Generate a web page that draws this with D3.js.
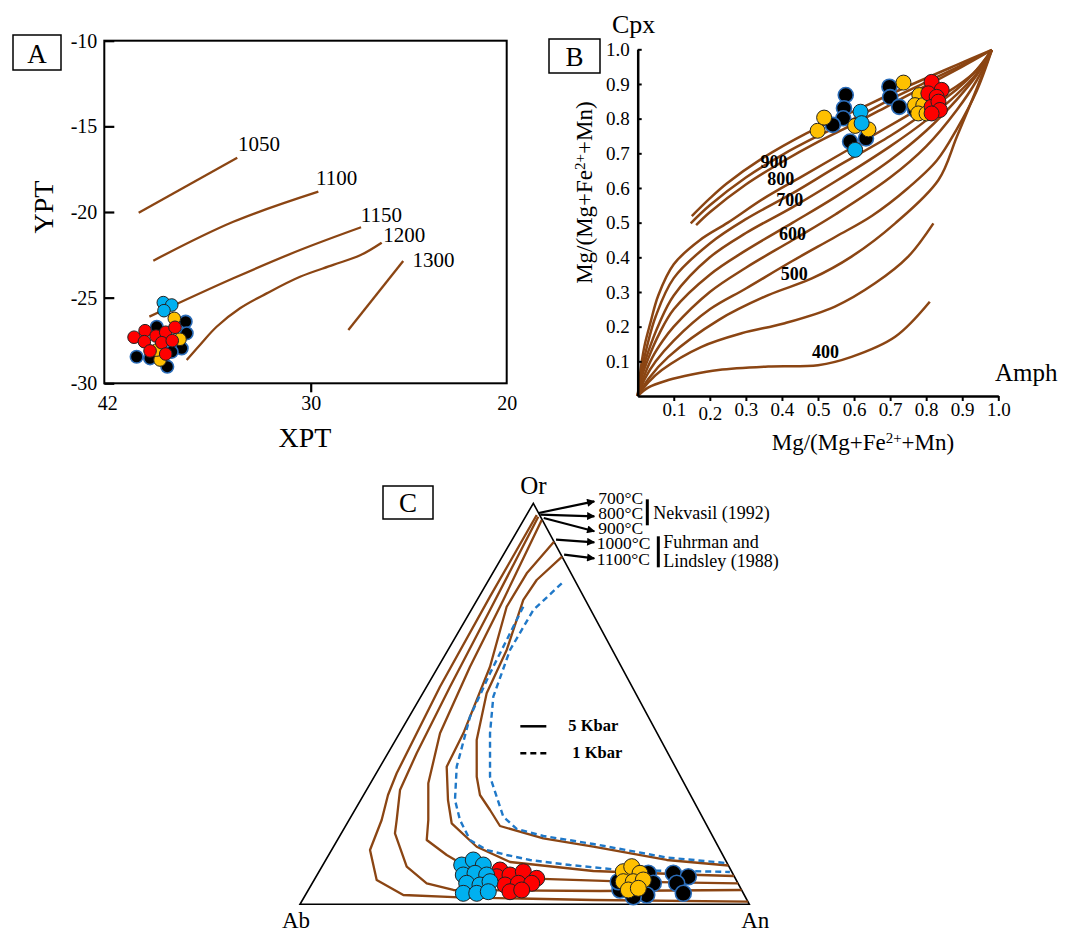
<!DOCTYPE html>
<html><head><meta charset="utf-8">
<script src="https://cdn.jsdelivr.net/npm/d3@7"></script>
<style>body{margin:0;background:#fff}</style>
</head><body>
<script>
// ---------------- DATA ----------------
// Panel A (XPT vs YPT)
const aTicksX = [42, 30, 20];
const aTicksY = [-10, -15, -20, -25, -30];
const a1050 = [[40.0,-20.04],[34.27,-16.83]];
const a1100 = [[39.15,-22.84],[34.5,-20.57],[29.61,-18.81]];
const a1150 = [[39.38,-26.11],[34.5,-23.87],[30.62,-22.22],[27.43,-20.89]];
const a1200 = [[37.21,-28.64],[36.44,-27.76],[35.47,-26.70],[34.11,-25.62],[32.56,-24.75],[30.62,-23.78],[28.85,-23.09],[27.45,-22.51],[26.38,-21.79]];
const a1300 = [[28.08,-26.89],[25.28,-22.86]];
const aLineLabels = ["1050","1100","1150","1200","1300"];
const aLabelPos = [[34.23,-16.42],[29.73,-18.42],[27.45,-20.6],[26.3,-21.73],[24.8,-23.19]];
const aBlack = [[40.12,-28.45],[38.95,-26.70],[37.27,-26.40],[37.21,-27.08],[37.5,-27.96],[38.34,-29.03],[39.34,-28.54],[38.08,-28.16]];
const aYellow = [[37.93,-26.21],[37.6,-27.43],[38.76,-28.64],[38.95,-28.06]];
const aBlue = [[38.57,-25.29],[38.08,-25.43],[38.53,-25.76]];
const aRed = [[40.27,-27.31],[39.63,-26.93],[38.99,-27.24],[38.43,-27.02],[37.89,-26.73],[39.67,-27.57],[38.66,-27.63],[38.05,-27.51],[39.34,-28.11],[38.43,-28.29]];

// Panel B (Mg# Amph vs Mg# Cpx)
const bTicks = [0.1,0.2,0.3,0.4,0.5,0.6,0.7,0.8,0.9,1.0];
const bT1 = [[0.150,0.519],[0.2,0.57],[0.247,0.613],[0.339,0.681],[0.469,0.758],[0.607,0.825],[0.746,0.892],[0.885,0.955],[0.982,0.998]];
const bT2 = [[0.147,0.498],[0.2,0.55],[0.3,0.63],[0.4,0.695],[0.5,0.75],[0.6,0.80],[0.7,0.855],[0.8,0.905],[0.9,0.955],[0.982,0.998]];
const bT3 = [[0.162,0.493],[0.2,0.53],[0.3,0.61],[0.4,0.675],[0.5,0.733],[0.6,0.785],[0.7,0.84],[0.8,0.895],[0.9,0.95],[0.982,0.998]];
const bF1 = [[0,0],[0.01,0.09],[0.02,0.15],[0.035,0.21],[0.057,0.29],[0.1,0.38],[0.173,0.45],[0.25,0.5],[0.35,0.57],[0.45,0.63],[0.55,0.69],[0.65,0.75],[0.75,0.81],[0.85,0.87],[0.93,0.93],[0.982,0.998]];
const bF2 = [[0,0],[0.01,0.07],[0.025,0.14],[0.05,0.23],[0.1,0.34],[0.2,0.44],[0.3,0.51],[0.43,0.585],[0.55,0.66],[0.7,0.75],[0.8,0.82],[0.885,0.885],[0.94,0.94],[0.982,0.998]];
const bF3 = [[0,0],[0.01,0.06],[0.03,0.13],[0.06,0.21],[0.1,0.29],[0.2,0.4],[0.3,0.47],[0.43,0.545],[0.55,0.62],[0.7,0.72],[0.8,0.795],[0.885,0.87],[0.94,0.93],[0.982,0.998]];
const bF4 = [[0,0],[0.01,0.05],[0.03,0.11],[0.06,0.18],[0.1,0.25],[0.2,0.35],[0.3,0.42],[0.43,0.5],[0.55,0.575],[0.7,0.68],[0.8,0.765],[0.885,0.855],[0.94,0.925],[0.982,0.998]];
const bF5 = [[0,0],[0.015,0.05],[0.04,0.11],[0.07,0.16],[0.1,0.2],[0.2,0.3],[0.3,0.37],[0.43,0.45],[0.55,0.525],[0.7,0.63],[0.8,0.72],[0.885,0.825],[0.94,0.91],[0.982,0.998]];
const bF6 = [[0,0],[0.02,0.05],[0.05,0.1],[0.1,0.16],[0.2,0.25],[0.3,0.31],[0.43,0.39],[0.55,0.46],[0.65,0.52],[0.75,0.6],[0.83,0.68],[0.885,0.77],[0.94,0.88],[0.982,0.998]];
const bF7 = [[0,0],[0.03,0.05],[0.085,0.113],[0.224,0.219],[0.362,0.291],[0.483,0.339],[0.593,0.402],[0.714,0.498],[0.834,0.623],[0.885,0.748],[0.931,0.863],[0.982,0.998]];
const bF8 = [[0,0],[0.03,0.04],[0.067,0.075],[0.177,0.142],[0.288,0.181],[0.408,0.21],[0.547,0.258],[0.658,0.325],[0.75,0.402],[0.82,0.498]];
const bF9 = [[0,0],[0.03,0.025],[0.085,0.046],[0.15,0.062],[0.224,0.075],[0.362,0.085],[0.5,0.089],[0.593,0.113],[0.714,0.171],[0.81,0.272]];
const bCurveLabels = ["900","800","700","600","500","400"];
const bLabelPos = [[0.378,0.676],[0.397,0.625],[0.422,0.565],[0.429,0.467],[0.434,0.351],[0.521,0.128]];
const bBlack = [[0.577,0.868],[0.572,0.83],[0.570,0.801],[0.541,0.782],[0.589,0.734],[0.633,0.743],[0.698,0.892],[0.70,0.862],[0.725,0.834],[0.769,0.825]];
const bYellow = [[0.499,0.765],[0.517,0.803],[0.603,0.779],[0.640,0.769],[0.737,0.904],[0.781,0.868],[0.769,0.839],[0.792,0.839],[0.778,0.815],[0.801,0.815]];
const bBlue = [[0.618,0.82],[0.621,0.787],[0.603,0.71]];
const bRed = [[0.815,0.906],[0.843,0.883],[0.806,0.873],[0.829,0.863],[0.815,0.834],[0.834,0.849],[0.838,0.825],[0.815,0.815]];

// Panel C (ternary Ab-An-Or), points as [An, Or] fractions
const c700 = [[0.0227,0.9708],[0.0245,0.7671],[0.0298,0.5426],[0.0455,0.3267],[0.0543,0.2726],[0.0726,0.2102],[0.0855,0.1354],[0.1392,0.0606],[0.2179,0.0232],[0.347,0.0175],[0.6472,0.0107],[0.9935,0.0065]];
const c800 = [[0.0284,0.9666],[0.0418,0.7339],[0.0521,0.5426],[0.0641,0.3766],[0.0746,0.285],[0.106,0.2102],[0.1194,0.1771],[0.1888,0.0938],[0.2548,0.0524],[0.3227,0.0357],[0.6505,0.0332],[0.9643,0.0357]];
const c900 = [[0.0403,0.9584],[0.0584,0.7589],[0.0707,0.5925],[0.0902,0.4264],[0.1289,0.3017],[0.1764,0.2102],[0.1988,0.1603],[0.2627,0.1229],[0.3223,0.0938],[0.4709,0.0648],[0.6978,0.0564],[0.9476,0.0524]];
const c1000 = [[0.0958,0.9042],[0.076,0.8254],[0.0746,0.7421],[0.1152,0.5925],[0.1421,0.4264],[0.1483,0.3431],[0.1943,0.2601],[0.2327,0.202],[0.3187,0.1436],[0.4126,0.1055],[0.6097,0.083],[0.8523,0.0731],[0.9294,0.0706]];
const c1100 = [[0.1332,0.8668],[0.1068,0.8087],[0.1029,0.7589],[0.1307,0.6342],[0.1422,0.5262],[0.1805,0.4097],[0.2281,0.3182],[0.259,0.2726],[0.3008,0.2352],[0.3437,0.1953],[0.456,0.1646],[0.5782,0.1436],[0.7588,0.1105],[0.9032,0.0968]];
const cDashA = [[0.1668,0.8005],[0.1382,0.7339],[0.1381,0.6342],[0.1614,0.5177],[0.2015,0.4264],[0.2577,0.3182],[0.339,0.2185],[0.3848,0.1878],[0.4531,0.1703],[0.5747,0.1504],[0.7556,0.1167],[0.895,0.103]];
const cDashB = [[0.1116,0.7421],[0.1238,0.576],[0.1355,0.4678],[0.1706,0.3431],[0.2099,0.2601],[0.2469,0.2102],[0.2952,0.1603],[0.3452,0.1354],[0.3962,0.1229],[0.4545,0.1105],[0.55,0.098],[0.6678,0.0855],[0.8926,0.0813],[0.915,0.0805]];
const cTempLabels = ["700°C","800°C","900°C","1000°C","1100°C"];
const cBlue = [[0.309,0.098],[0.3283,0.1105],[0.3571,0.098],[0.3255,0.0731],[0.3494,0.0773],[0.3775,0.0731],[0.3438,0.0524],[0.3756,0.0481],[0.3936,0.0564],[0.3493,0.0274],[0.3791,0.0274],[0.4028,0.0314]];
const cRed = [[0.4007,0.0855],[0.4021,0.0688],[0.4294,0.0731],[0.4548,0.0813],[0.4931,0.0648],[0.4313,0.0481],[0.4587,0.0524],[0.4885,0.0524],[0.4511,0.0314],[0.4749,0.0357]];
const cYellow = [[0.6774,0.0813],[0.6896,0.0938],[0.7166,0.0773],[0.6903,0.0564],[0.7125,0.0564],[0.7326,0.0606],[0.7122,0.0357],[0.7323,0.0399]];
const cBlack = [[0.6937,0.0357],[0.7351,0.0773],[0.7591,0.0524],[0.7596,0.0232],[0.7319,0.019],[0.6791,0.0564],[0.7908,0.0773],[0.8285,0.0688],[0.8112,0.0524],[0.8389,0.0274]];

// ---------------- STYLE ----------------
const SERIF = '"Liberation Serif","Times New Roman",Times,serif';
const BROWN = "#8B4513";
const FILL = {black:"#000000", yellow:"#FFC000", blue:"#00B0F0", red:"#FF0000"};
const EDGE = {black:"#2B6CB8", yellow:"#222", blue:"#222", red:"#222"};

const svg = d3.select("body").append("svg").attr("width",1066).attr("height",933)
  .style("font-family",SERIF);

function boxLabel(x,y,w,h,t){
  svg.append("rect").attr("x",x).attr("y",y).attr("width",w).attr("height",h)
    .attr("fill","#fff").attr("stroke","#000").attr("stroke-width",1.5);
  svg.append("text").attr("x",x+w/2).attr("y",y+h-7).attr("text-anchor","middle")
    .attr("font-size",27).attr("font-family",SERIF).text(t);
}
function dots(g, data, key, r, sx, sy){
  g.append("g").selectAll("circle").data(data).join("circle")
    .attr("cx",d=>sx(d)).attr("cy",d=>sy(d)).attr("r",r)
    .attr("fill",FILL[key]).attr("stroke",EDGE[key]).attr("stroke-width",key==="black"?1.6:1);
}

// ---------------- PANEL A ----------------
const xA = d3.scaleLinear().domain(aTicksX).range([104.3,310.7,506.7]);
const yA = d3.scaleLinear().domain([-10,-30]).range([40.7,383.3]);
const gA = svg.append("g");
gA.append("rect").attr("x",xA(42)).attr("y",yA(-10)).attr("width",xA(20)-xA(42)).attr("height",yA(-30)-yA(-10))
  .attr("fill","none").attr("stroke","#000").attr("stroke-width",2);
const axYA = gA.append("g").attr("transform",`translate(${xA(42)},0)`)
  .call(d3.axisLeft(yA).tickValues(aTicksY).tickSize(-10).tickSizeOuter(0).tickPadding(7).tickFormat(d=>String(d)));
axYA.select(".domain").remove();
axYA.selectAll(".tick line").attr("stroke-width",2.2);
axYA.selectAll("text").attr("font-family",SERIF).attr("font-size",20).attr("fill","#000");
const axXA = gA.append("g").attr("transform",`translate(0,${yA(-30)})`)
  .call(d3.axisBottom(xA).tickValues(aTicksX).tickSize(9).tickSizeOuter(0).tickPadding(4).tickFormat(d=>String(d)));
axXA.select(".domain").remove();
axXA.selectAll(".tick line").attr("stroke-width",2.2).attr("opacity",d=>d===30?1:0);
axXA.selectAll("text").attr("font-family",SERIF).attr("font-size",20).attr("fill","#000")
  .attr("dx",d=>d===42?3:0);
const lineA = d3.line().x(d=>xA(d[0])).y(d=>yA(d[1])).curve(d3.curveCatmullRom.alpha(0.5));
[a1050,a1100,a1150,a1200,a1300].forEach(l=>{
  gA.append("path").attr("d",lineA(l)).attr("fill","none").attr("stroke",BROWN).attr("stroke-width",2.3);
});
gA.selectAll("text.iso").data(aLineLabels).join("text").attr("class","iso")
  .attr("x",(d,i)=>xA(aLabelPos[i][0])).attr("y",(d,i)=>yA(aLabelPos[i][1]))
  .attr("font-size",21).attr("font-family",SERIF).text(d=>d);
const pxA=d=>xA(d[0]), pyA=d=>yA(d[1]);
dots(gA,aBlack,"black",6.3,pxA,pyA);
dots(gA,aYellow,"yellow",6.3,pxA,pyA);
dots(gA,aBlue,"blue",6.3,pxA,pyA);
dots(gA,aRed,"red",6.3,pxA,pyA);
gA.append("text").attr("transform",`translate(53,${(yA(-10)+yA(-30))/2 - 5}) rotate(-90)`)
  .attr("text-anchor","middle").attr("font-size",28).attr("font-family",SERIF).text("YPT");
gA.append("text").attr("x",305).attr("y",446.5).attr("text-anchor","middle")
  .attr("font-size",28).attr("font-family",SERIF).text("XPT");
boxLabel(13,35,48,35,"A");

// ---------------- PANEL B ----------------
const xB = d3.scaleLinear().domain([0,1]).range([637.7,998.3]);
const yB = d3.scaleLinear().domain([0,1]).range([396,49.3]);
const gB = svg.append("g");
const lineB = d3.line().x(d=>xB(d[0])).y(d=>yB(d[1])).curve(d3.curveCatmullRom.alpha(0.5));
[bT1,bT2,bT3,bF1,bF2,bF3,bF4,bF5,bF6,bF7,bF8,bF9].forEach(l=>{
  gB.append("path").attr("d",lineB(l)).attr("fill","none").attr("stroke",BROWN).attr("stroke-width",2.5);
});
const axYB = gB.append("g").attr("transform",`translate(${xB(0)},0)`)
  .call(d3.axisLeft(yB).tickValues(bTicks).tickSize(-4).tickSizeOuter(0).tickPadding(8).tickFormat(d3.format(".1f")));
axYB.select(".domain").attr("stroke-width",2.5);
axYB.selectAll(".tick line").attr("stroke-width",2);
axYB.selectAll("text").attr("font-family",SERIF).attr("font-size",19).attr("fill","#000");
const axXB = gB.append("g").attr("transform",`translate(0,${yB(0)})`)
  .call(d3.axisBottom(xB).tickValues(bTicks).tickSize(5).tickSizeOuter(0).tickPadding(2).tickFormat(d3.format(".1f")));
axXB.select(".domain").attr("stroke-width",2.5);
axXB.selectAll(".tick line").attr("stroke-width",2);
axXB.selectAll("text").attr("font-family",SERIF).attr("font-size",19).attr("fill","#000")
  .attr("transform",d=>Math.abs(d-0.2)<1e-9?"translate(0,4)":null);
gB.selectAll("text.tl").data(bCurveLabels).join("text").attr("class","tl")
  .attr("x",(d,i)=>xB(bLabelPos[i][0])).attr("y",(d,i)=>yB(bLabelPos[i][1]))
  .attr("text-anchor","middle").attr("dominant-baseline","central")
  .attr("font-size",18).attr("font-weight","bold").attr("font-family",SERIF).text(d=>d);
const pxB=d=>xB(d[0]), pyB=d=>yB(d[1]);
dots(gB,bBlack,"black",7.5,pxB,pyB);
dots(gB,bYellow,"yellow",7.5,pxB,pyB);
dots(gB,bBlue,"blue",7.5,pxB,pyB);
dots(gB,bRed,"red",7.5,pxB,pyB);
gB.append("text").attr("x",612).attr("y",33).attr("font-size",26).attr("font-family",SERIF).text("Cpx");
gB.append("text").attr("x",995).attr("y",381).attr("font-size",25).attr("font-family",SERIF).text("Amph");
function mgTitle(t){
  t.append("tspan").text("Mg/(Mg+Fe");
  t.append("tspan").attr("font-size","0.65em").attr("dy","-0.5em").text("2+");
  t.append("tspan").attr("dy","0.33em").text("+Mn)");
}
gB.append("text").attr("transform",`translate(592,${(yB(0)+yB(1))/2 - 30}) rotate(-90)`)
  .attr("text-anchor","middle").attr("font-size",23).attr("font-family",SERIF).call(mgTitle);
gB.append("text").attr("x",863).attr("y",450).attr("text-anchor","middle")
  .attr("font-size",23).attr("font-family",SERIF).call(mgTitle);
boxLabel(549,39,51,34,"B");

// ---------------- PANEL C ----------------
const tX = d3.scaleLinear().domain([0,1]).range([300,749.3]);
const tY = d3.scaleLinear().domain([0,1]).range([904.3,503.3]);
const apexU = 0.5193;
const proj = d => [tX(d[0] + d[1]*apexU), tY(d[1])];
const gC = svg.append("g");
const tri = [[0,0],[1,0],[0,1]];
gC.append("path").attr("d",d3.line().x(d=>proj(d)[0]).y(d=>proj(d)[1])(tri)+"Z")
  .attr("fill","none").attr("stroke","#000").attr("stroke-width",1.6);
const lineC = d3.line().x(d=>proj(d)[0]).y(d=>proj(d)[1]);
const cCurves = [c700,c800,c900,c1000,c1100];
cCurves.forEach(l=>{
  gC.append("path").attr("d",lineC(l)).attr("fill","none").attr("stroke",BROWN).attr("stroke-width",2.3).attr("stroke-linejoin","round");
});
[cDashA,cDashB].forEach(l=>{
  gC.append("path").attr("d",lineC(l)).attr("fill","none").attr("stroke","#1F78C8").attr("stroke-width",2.4).attr("stroke-dasharray","6,4");
});
// vertex labels
const vOr = proj([0,1]), vAb = proj([0,0]), vAn = proj([1,0]);
gC.append("text").attr("x",vOr[0]).attr("y",vOr[1]-9).attr("text-anchor","middle").attr("font-size",25).attr("font-family",SERIF).text("Or");
gC.append("text").attr("x",vAb[0]-4).attr("y",vAb[1]+24).attr("text-anchor","middle").attr("font-size",23).attr("font-family",SERIF).text("Ab");
gC.append("text").attr("x",vAn[0]+6).attr("y",vAn[1]+24).attr("text-anchor","middle").attr("font-size",23).attr("font-family",SERIF).text("An");
// arrows + temperature labels
svg.append("defs").append("marker").attr("id","arr").attr("viewBox","0 0 10 10").attr("refX",9).attr("refY",5)
  .attr("markerUnits","userSpaceOnUse").attr("markerWidth",10).attr("markerHeight",8).attr("orient","auto")
  .append("path").attr("d","M0,0L10,5L0,10z").attr("fill","#000");
const labX = vOr[0] + 65;
const labBase = [1,16,31,46,62].map(v=>vOr[1]+v);
cCurves.forEach((l,i)=>{
  const s = proj(l[0]);
  gC.append("line").attr("x1",s[0]+2).attr("y1",s[1]-2).attr("x2",labX-4).attr("y2",labBase[i]-(i<3?3:7))
    .attr("stroke","#000").attr("stroke-width",2.2).attr("marker-end","url(#arr)");
});
gC.selectAll("text.tc").data(cTempLabels).join("text").attr("class","tc")
  .attr("x",(d,i)=>labX-(i>2?1.5:0)).attr("y",(d,i)=>labBase[i])
  .attr("font-size",17.5).attr("font-family",SERIF).text(d=>d);
gC.append("line").attr("x1",labX+49).attr("x2",labX+49).attr("y1",vOr[1]-4).attr("y2",vOr[1]+22).attr("stroke","#000").attr("stroke-width",3);
gC.append("text").attr("x",labX+55).attr("y",vOr[1]+15.5).attr("font-size",18).attr("font-family",SERIF).text("Nekvasil (1992)");
gC.append("line").attr("x1",labX+60).attr("x2",labX+60).attr("y1",vOr[1]+33).attr("y2",vOr[1]+64).attr("stroke","#000").attr("stroke-width",3);
gC.append("text").attr("x",labX+65).attr("y",vOr[1]+45).attr("font-size",18).attr("font-family",SERIF).text("Fuhrman and");
gC.append("text").attr("x",labX+65).attr("y",vOr[1]+64).attr("font-size",18).attr("font-family",SERIF).text("Lindsley (1988)");
// legend
const lgX = vOr[0]-13, lgY = vOr[1]+223;
gC.append("line").attr("x1",lgX).attr("x2",lgX+26).attr("y1",lgY).attr("y2",lgY).attr("stroke","#000").attr("stroke-width",2.5);
gC.append("line").attr("x1",lgX).attr("x2",lgX+26).attr("y1",lgY+27).attr("y2",lgY+27).attr("stroke","#000").attr("stroke-width",2.5).attr("stroke-dasharray","6,4");
gC.append("text").attr("x",lgX+48).attr("y",lgY+5).attr("font-size",16.5).attr("font-weight","bold").attr("font-family",SERIF).text("5 Kbar");
gC.append("text").attr("x",lgX+52).attr("y",lgY+32).attr("font-size",16.5).attr("font-weight","bold").attr("font-family",SERIF).text("1 Kbar");
const pxC=d=>proj(d)[0], pyC=d=>proj(d)[1];
dots(gC,cBlack,"black",8,pxC,pyC);
dots(gC,cYellow,"yellow",8,pxC,pyC);
dots(gC,cRed,"red",8,pxC,pyC);
dots(gC,cBlue,"blue",8,pxC,pyC);
boxLabel(383,486,50,33,"C");
</script>
</body></html>
